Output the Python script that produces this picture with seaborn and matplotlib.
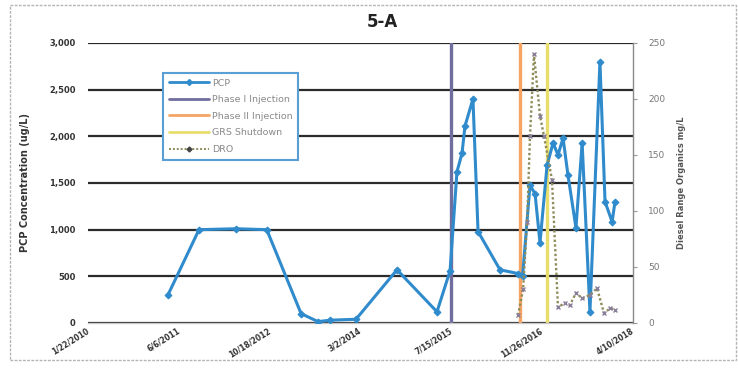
import matplotlib
matplotlib.use("Agg")
import matplotlib.pyplot as plt
from matplotlib.lines import Line2D
from matplotlib.patches import Rectangle
import pandas as pd
import seaborn as sns

# PCP concentration (ug/L), left axis
pcp_dates = ["2011-04-07", "2011-09-25", "2012-04-15", "2012-10-02", "2013-04-09",
             "2013-07-11", "2013-09-15", "2014-02-05", "2014-09-19", "2015-04-27",
             "2015-07-08", "2015-08-15", "2015-09-12", "2015-09-28", "2015-11-11",
             "2015-12-09", "2016-04-08", "2016-07-16", "2016-08-10", "2016-09-20",
             "2016-10-18", "2016-11-14", "2016-12-23", "2017-01-25", "2017-02-21",
             "2017-03-21", "2017-04-17", "2017-05-31", "2017-07-04", "2017-08-16",
             "2017-10-10", "2017-11-07", "2017-12-16", "2018-01-01"]
pcp_values = [300, 1000, 1010, 1000, 100,
              15, 30, 40, 570, 120,
              560, 1620, 1820, 2110, 2400,
              980, 570, 530, 500, 1480,
              1380, 860, 1690, 1930, 1800,
              1980, 1585, 1020, 1930, 120,
              2800, 1300, 1085, 1300]

# Diesel range organics (mg/L), right axis
dro_dates = ["2016-07-16", "2016-08-13", "2016-09-04", "2016-09-20", "2016-10-12",
             "2016-11-14", "2016-12-06", "2017-01-19", "2017-02-21", "2017-04-01",
             "2017-04-28", "2017-05-31", "2017-07-04", "2017-08-16", "2017-09-24",
             "2017-11-01", "2017-12-05", "2018-01-01"]
dro_values = [7, 30, 90, 167, 240,
              185, 167, 128, 14, 18,
              16, 27, 22, 25, 31,
              9, 13, 12]

# Remediation events
phase1_date = "2015-07-13"
phase2_date = "2016-07-27"
grs_date = "2016-12-23"

x_tick_dates = ["2010-01-22", "2011-06-06", "2012-10-18", "2014-03-02",
                "2015-07-15", "2016-11-26", "2018-04-10"]
x_tick_labels = ["1/22/2010", "6/6/2011", "10/18/2012", "3/2/2014",
                 "7/15/2015", "11/26/2016", "4/10/2018"]
left_ticks = [0, 500, 1000, 1500, 2000, 2500, 3000]
right_ticks = [0, 50, 100, 150, 200, 250]

pcp_df = pd.DataFrame({"date": pd.to_datetime(pcp_dates), "pcp": pcp_values})
dro_df = pd.DataFrame({"date": pd.to_datetime(dro_dates), "dro": dro_values})

sns.set_style("white")
plt.rcParams["font.family"] = ["DejaVu Sans"]

W, H = 738, 368
fig = plt.figure(figsize=(W / 100, H / 100), dpi=100)
fig.patch.set_facecolor("white")

# outer chart frame
fig.add_artist(Rectangle((10 / W, 1 - 360 / H), 726 / W, 355 / H,
                         transform=fig.transFigure, fill=False,
                         edgecolor="#b4b4b4", lw=1.0, ls=(0, (2, 1))))

ax = fig.add_axes([88 / W, 1 - 323 / H, 545 / W, 280 / H])
ax2 = ax.twinx()

PCP_C = "#2f8bcc"
P1_C = "#6f6e9e"
P2_C = "#f5a463"
GRS_C = "#e8de6c"
DRO_C = "#8f8c5a"

ax.set_xlim(pd.Timestamp(x_tick_dates[0]), pd.Timestamp(x_tick_dates[-1]))
ax.set_ylim(0, 3000)
ax2.set_ylim(0, 250)

ax.yaxis.grid(True, color="#2b2b2b", lw=1.6)
ax.xaxis.grid(False)
ax.set_axisbelow(True)

for d, c in [(phase1_date, P1_C), (phase2_date, P2_C), (grs_date, GRS_C)]:
    ax.axvline(pd.Timestamp(d), color=c, lw=2.4, zorder=2)

sns.lineplot(data=pcp_df, x="date", y="pcp", ax=ax, color=PCP_C, lw=2.2,
             marker="D", markersize=3.5, markeredgecolor=PCP_C, zorder=3)

sns.lineplot(data=dro_df, x="date", y="dro", ax=ax2, color=DRO_C, lw=1.7,
             ls=(0, (1, 1)), marker="x", markersize=3.5,
             markeredgecolor="#8a7f9a", markeredgewidth=1.0, zorder=3)

ax.set_xticks(pd.to_datetime(x_tick_dates))
ax.set_xticklabels(x_tick_labels, rotation=32, ha="right", va="center",
                   rotation_mode="anchor", fontsize=5.5, fontweight="bold",
                   color="#333333")
ax.set_yticks(left_ticks)
ax.set_yticklabels([f"{v:,}" for v in left_ticks], fontsize=6,
                   fontweight="bold", color="#333333")
ax.tick_params(axis="y", length=0, pad=9)
ax.tick_params(axis="x", length=0, pad=5)

ax2.set_yticks(right_ticks)
ax2.set_yticklabels([str(v) for v in right_ticks], fontsize=6.5,
                    color="#777777")
ax2.tick_params(axis="y", length=3, width=0.8, color="#999999", pad=8)

ax.set_xlabel("")
ax.set_ylabel("PCP Concentration (ug/L)", fontsize=7, fontweight="bold",
              color="#333333", labelpad=14)
ax2.set_ylabel("Diesel Range Organics mg/L", fontsize=6, fontweight="bold",
               color="#555555", labelpad=8)
ax2.set_xlabel("")

for sp in ["top", "left"]:
    ax.spines[sp].set_visible(False)
    ax2.spines[sp].set_visible(False)
ax.spines["right"].set_visible(False)
ax.spines["bottom"].set_color("#c8c8c8")
ax.spines["bottom"].set_linestyle((0, (2, 1)))
ax.spines["bottom"].set_linewidth(1.0)
ax2.spines["bottom"].set_visible(False)
ax2.spines["right"].set_color("#8a8a8a")
ax2.spines["right"].set_linewidth(1.0)

fig.text(382 / W, 1 - 22 / H, "5-A", ha="center", va="center",
         fontsize=12, fontweight="bold", color="#222222")

handles = [
    Line2D([], [], color=PCP_C, lw=2, marker="D", markersize=3),
    Line2D([], [], color=P1_C, lw=2),
    Line2D([], [], color=P2_C, lw=2),
    Line2D([], [], color=GRS_C, lw=2),
    Line2D([], [], color=DRO_C, lw=1.4, ls=(0, (1, 1)), marker="D",
           markersize=2.5, markerfacecolor="#444444", markeredgecolor="#444444"),
]
labels = ["PCP", "Phase I Injection", "Phase II Injection", "GRS Shutdown", "DRO"]
leg = ax2.legend(handles, labels, loc="upper left",
                 bbox_to_anchor=(75 / 545, (323 - 73) / 280),
                 fontsize=6.8, frameon=True, fancybox=False,
                 handlelength=4.3, handletextpad=0.3, labelspacing=0.8,
                 borderpad=0.6, borderaxespad=0, labelcolor="#8a8a8a")
leg.get_frame().set_edgecolor("#5a9fd4")
leg.get_frame().set_linewidth(1.5)
leg.get_frame().set_facecolor("white")
leg.get_frame().set_alpha(1)

fig.savefig("out.png", dpi=100, facecolor="white")
